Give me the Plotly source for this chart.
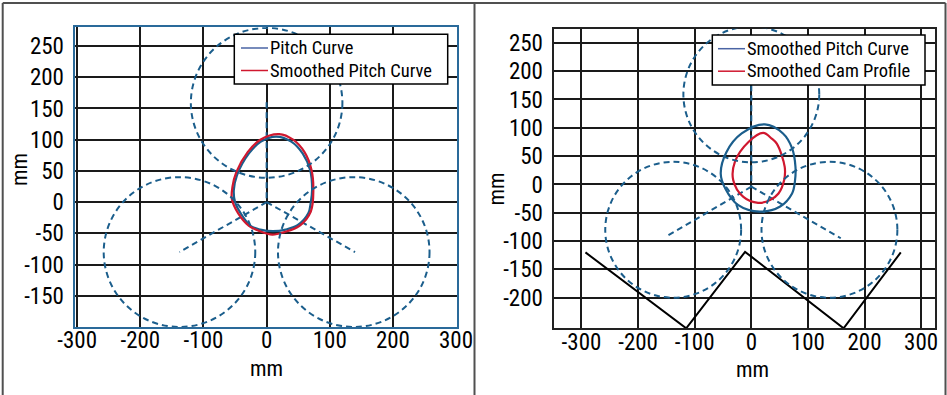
import plotly.graph_objects as go

# ---------------- data ----------------
x_ticks = [-300, -200, -100, 0, 100, 200, 300]
y_ticks_left = [-150, -100, -50, 0, 50, 100, 150, 200, 250]
y_ticks_right = [-200, -150, -100, -50, 0, 50, 100, 150, 200, 250]
axis_title = "mm"

# follower circles (dashed): centres and radius
circle_cx = [0, -138, 138]
circle_cy = [159, -80, -80]
circle_r = [120, 120, 120]

# left panel: radial dashed lines
left_ray_x = [0, 0, None, 0, -138, None, 0, 140]
left_ray_y = [160, 0, None, 0, -80, None, 0, -80]

# left panel: pitch curve
pitch_x = [15, 39, 57, 69, 72, 70, 66, 49, 30, 10, -10, -25, -41, -50, -52, -47, -28, -9, 15]
pitch_y = [105, 97, 78, 51, 20, 0, -18, -37, -44, -46.5, -44, -38.5, -18, 0, 19, 43, 78, 97, 105]

# left panel: smoothed pitch curve
spitch_x = [20, 42, 60, 71, 74, 70, 52, 28, 9, -12, -28, -45, -55, -54, -48, -30, -10, 20]
spitch_y = [109, 100, 80, 52, 20, -15, -38, -48, -52, -46, -38, -18, 5, 25, 48, 80, 100, 109]

# right panel: radial dashed lines
right_ray_x = [0, 0, None, 0, -152, None, 0, 158]
right_ray_y = [175, -4, None, -4, -93, None, -4, -95]

# right panel: smoothed pitch curve
rpitch_x = [24, 56, 72, 78, 77, 72, 51, 15, -23, -46, -54, -44, -17, 24]
rpitch_y = [106, 90, 64, 31, 5, -16, -39, -48, -36.5, -7, 19, 57, 90, 106]

# right panel: smoothed cam profile
cam_x = [21, 36, 45, 59, 58, 48, 33, 12, -14, -32, -29, -5, 21]
cam_y = [91, 81, 72, 31, 8, -16, -27.7, -32.5, -22, 8, 40, 75, 91]

# right panel: black zig-zag line
zig_x = [-293, -115, -11, 163, 264]
zig_y = [-120, -254, -119, -254, -120]

# legend entries
left_legend_names = ["Pitch Curve", "Smoothed Pitch Curve"]
right_legend_names = ["Smoothed Pitch Curve", "Smoothed Cam Profile"]

# ---------------- style ----------------
BLUE = "#1b5e8c"
LEG_BLUE = "#4a64a4"
RED = "#d0182f"
FONT = "Roboto Condensed, Roboto, sans-serif"
DASH = "6px,4px"
W, H = 947, 395


def px(x):
    return x / W


def py(y):
    return 1 - y / H


def labels(vals):
    return [str(v) for v in vals]  # plain hyphen-minus as in the original


fig = go.Figure()

# left panel traces
fig.add_trace(go.Scatter(x=left_ray_x, y=left_ray_y, mode="lines",
                         line=dict(color=BLUE, width=2, dash=DASH),
                         showlegend=False, xaxis="x", yaxis="y"))
fig.add_trace(go.Scatter(x=pitch_x, y=pitch_y, mode="lines", name=left_legend_names[0],
                         line=dict(color=BLUE, width=2.2, shape="spline", smoothing=1),
                         showlegend=False, xaxis="x", yaxis="y"))
fig.add_trace(go.Scatter(x=spitch_x, y=spitch_y, mode="lines", name=left_legend_names[1],
                         line=dict(color=RED, width=2.2, shape="spline", smoothing=1),
                         showlegend=False, xaxis="x", yaxis="y"))

# right panel traces
fig.add_trace(go.Scatter(x=right_ray_x, y=right_ray_y, mode="lines",
                         line=dict(color=BLUE, width=2, dash=DASH),
                         showlegend=False, xaxis="x2", yaxis="y2"))
fig.add_trace(go.Scatter(x=zig_x, y=zig_y, mode="lines",
                         line=dict(color="black", width=2),
                         showlegend=False, xaxis="x2", yaxis="y2"))
fig.add_trace(go.Scatter(x=rpitch_x, y=rpitch_y, mode="lines", name=right_legend_names[0],
                         line=dict(color=BLUE, width=2.2, shape="spline", smoothing=1),
                         showlegend=False, xaxis="x2", yaxis="y2"))
fig.add_trace(go.Scatter(x=cam_x, y=cam_y, mode="lines", name=right_legend_names[1],
                         line=dict(color=RED, width=2.2, shape="spline", smoothing=1),
                         showlegend=False, xaxis="x2", yaxis="y2"))

shapes = []
annotations = []
for xr, yr in (("x", "y"), ("x2", "y2")):
    for cx, cy, r in zip(circle_cx, circle_cy, circle_r):
        shapes.append(dict(type="circle", xref=xr, yref=yr,
                           x0=cx - r, x1=cx + r, y0=cy - r, y1=cy + r,
                           line=dict(color=BLUE, width=2, dash=DASH), layer="above"))

# outer panel frames
FR = dict(color="#505050", width=2)
for xp in (2.7, 474.5, 945.5):
    shapes.append(dict(type="line", xref="paper", yref="paper", x0=px(xp), x1=px(xp),
                       y0=-0.05, y1=py(3), line=FR))
shapes.append(dict(type="line", xref="paper", yref="paper", x0=px(2.7), x1=px(945.5),
                   y0=py(3), y1=py(3), line=FR))

# legends (box, sample lines, labels)
legend_specs = [
    (234.3, 447.7, 34.3, 84.0, 241, 268, [48.0, 70.5], left_legend_names),
    (712.3, 925.0, 35.0, 85.0, 718, 745, [48.7, 71.2], right_legend_names),
]
for bx0, bx1, by0, by1, lx0, lx1, rows, names in legend_specs:
    shapes.append(dict(type="rect", xref="paper", yref="paper",
                       x0=px(bx0), x1=px(bx1), y0=py(by1), y1=py(by0),
                       fillcolor="white", line=dict(color="black", width=1.5), layer="above"))
    for rowy, col, name in zip(rows, (LEG_BLUE, RED), names):
        shapes.append(dict(type="line", xref="paper", yref="paper",
                           x0=px(lx0), x1=px(lx1), y0=py(rowy), y1=py(rowy),
                           line=dict(color=col, width=1.5), layer="above"))
        annotations.append(dict(text=name, xref="paper", yref="paper", x=px(lx1 + 1),
                                y=py(rowy), xanchor="left", yanchor="middle", showarrow=False,
                                borderpad=0,
                                font=dict(family=FONT, size=18.5, color="black")))

# axis titles placed as in the original
title_font = dict(family=FONT, size=22, color="black")
for tx, ty, ang in ((266.7, 368.5, 0), (752.3, 369.5, 0), (19.0, 170.0, -90), (495.5, 189.0, -90)):
    annotations.append(dict(text=axis_title, xref="paper", yref="paper", x=px(tx), y=py(ty),
                            xanchor="center", yanchor="middle", showarrow=False,
                            textangle=ang, borderpad=0, font=title_font))

tickfont = dict(family=FONT, size=23, color="black")
axis_common = dict(showgrid=True, gridcolor="#1a1a1a", gridwidth=1.5, zeroline=False,
                   showline=True, mirror=True, ticks="", tickfont=tickfont, tickangle=0,
                   automargin=False)

fig.update_layout(
    width=W, height=H,
    margin=dict(l=0, r=0, t=0, b=0),
    paper_bgcolor="white", plot_bgcolor="white",
    font=dict(family=FONT, color="black"),
    showlegend=False,
    shapes=shapes,
    annotations=annotations,
    xaxis=dict(domain=[px(75.3), px(457)], range=[-303, 301.5],
               tickvals=x_ticks, ticktext=labels(x_ticks),
               linecolor="#2a6a9a", linewidth=1.5,
               ticklabelstandoff=-8, anchor="y", **axis_common),
    yaxis=dict(domain=[py(327), py(27.3)], range=[-200, 280],
               tickvals=y_ticks_left, ticktext=labels(y_ticks_left),
               linecolor="#2a6a9a", linewidth=1.5,
               ticklabelstandoff=5, anchor="x", **axis_common),
    xaxis2=dict(domain=[px(554.3), px(935.3)], range=[-348, 325],
                tickvals=x_ticks, ticktext=labels(x_ticks),
                linecolor="#222222", linewidth=1.5,
                ticklabelstandoff=-8, anchor="y2", **axis_common),
    yaxis2=dict(domain=[py(328.3), py(28.7)], range=[-254, 275],
                tickvals=y_ticks_right, ticktext=labels(y_ticks_right),
                linecolor="#222222", linewidth=1.5,
                ticklabelstandoff=5, anchor="x2", **axis_common),
)

fig.write_html("out.html")
